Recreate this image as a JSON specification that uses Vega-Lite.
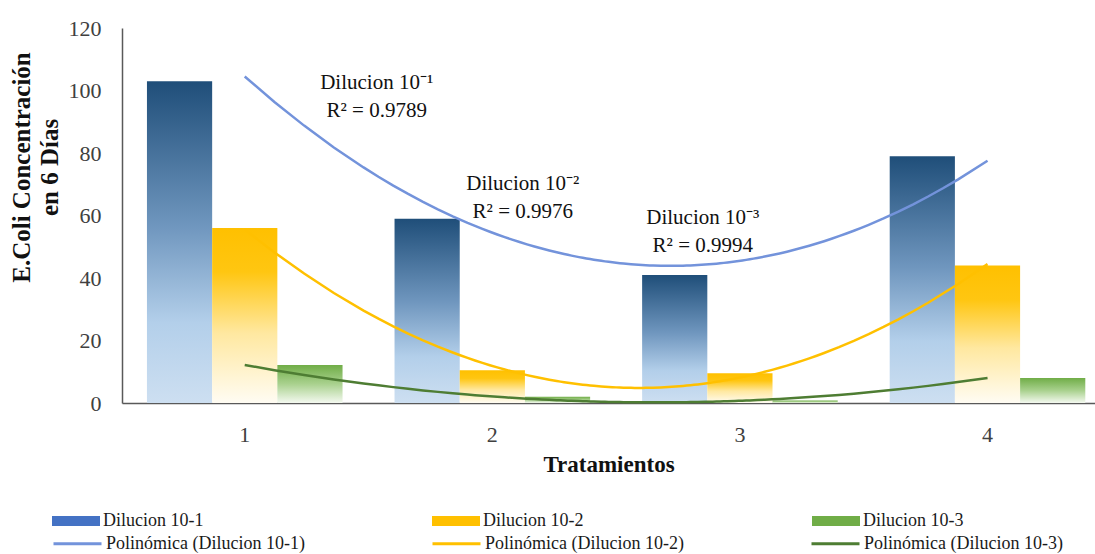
{
  "$schema": "https://vega.github.io/schema/vega-lite/v6.json",
  "autosize": {"type": "none"},
  "width": 973,
  "height": 375,
  "padding": {"left": 122, "top": 28, "right": 0, "bottom": 151},
  "background": "white",
  "config": {
    "view": {"stroke": null},
    "font": "Liberation Serif",
    "axis": {"labelFont": "Liberation Serif", "titleFont": "Liberation Serif", "domainColor": "#595959", "domainWidth": 1.5, "ticks": false, "grid": false, "labelColor": "#404040", "titleColor": "#111111", "labelFontSize": 22, "titleFontSize": 23, "titleFontWeight": "bold"},
    "legend": {"labelFont": "Liberation Serif", "labelFontSize": 18, "labelColor": "#1a1a1a", "labelLimit": 400}
  },
  "datasets": {
    "bars": [
      {"Tratamiento": 1, "Serie": "Dilucion 10-1", "Tendencia": "Polinómica (Dilucion 10-1)", "Valor": 103},
      {"Tratamiento": 2, "Serie": "Dilucion 10-1", "Tendencia": "Polinómica (Dilucion 10-1)", "Valor": 59},
      {"Tratamiento": 3, "Serie": "Dilucion 10-1", "Tendencia": "Polinómica (Dilucion 10-1)", "Valor": 41},
      {"Tratamiento": 4, "Serie": "Dilucion 10-1", "Tendencia": "Polinómica (Dilucion 10-1)", "Valor": 79},
      {"Tratamiento": 1, "Serie": "Dilucion 10-2", "Tendencia": "Polinómica (Dilucion 10-2)", "Valor": 56},
      {"Tratamiento": 2, "Serie": "Dilucion 10-2", "Tendencia": "Polinómica (Dilucion 10-2)", "Valor": 10.5},
      {"Tratamiento": 3, "Serie": "Dilucion 10-2", "Tendencia": "Polinómica (Dilucion 10-2)", "Valor": 9.5},
      {"Tratamiento": 4, "Serie": "Dilucion 10-2", "Tendencia": "Polinómica (Dilucion 10-2)", "Valor": 44},
      {"Tratamiento": 1, "Serie": "Dilucion 10-3", "Tendencia": "Polinómica (Dilucion 10-3)", "Valor": 12.2},
      {"Tratamiento": 2, "Serie": "Dilucion 10-3", "Tendencia": "Polinómica (Dilucion 10-3)", "Valor": 2},
      {"Tratamiento": 3, "Serie": "Dilucion 10-3", "Tendencia": "Polinómica (Dilucion 10-3)", "Valor": 0.8},
      {"Tratamiento": 4, "Serie": "Dilucion 10-3", "Tendencia": "Polinómica (Dilucion 10-3)", "Valor": 8}
    ],
    "labels": [
      {"x": 1.533, "y": 102.4, "texto": "Dilucion 10⁻¹\nR² = 0.9789"},
      {"x": 2.123, "y": 70.1, "texto": "Dilucion 10⁻²\nR² = 0.9976"},
      {"x": 2.85, "y": 59.2, "texto": "Dilucion 10⁻³\nR² = 0.9994"}
    ]
  },
  "resolve": {"scale": {"x": "independent"}},
  "layer": [
    {
      "data": {"name": "bars"},
      "mark": {"type": "bar"},
      "encoding": {
        "x": {"field": "Tratamiento", "type": "ordinal", "title": "Tratamientos",
              "scale": {"paddingInner": 0.21, "paddingOuter": 0.07, "align": 0.72},
              "axis": {"labelAngle": 0, "labelPadding": 21, "titlePadding": 8}},
        "xOffset": {"field": "Serie", "type": "nominal", "scale": {"paddingInner": 0, "paddingOuter": 0}},
        "y": {"field": "Valor", "type": "quantitative", "title": ["E.Coli Concentración", "en 6 Días"],
              "scale": {"domain": [0, 120], "nice": false},
              "axis": {"values": [0, 20, 40, 60, 80, 100, 120], "labelPadding": 21, "titlePadding": 6, "titleLineHeight": 28, "titleFontSize": 25, "titleY": 139}},
        "fill": {
          "condition": [
            {"test": "datum.Serie === 'Dilucion 10-1'", "value": {"gradient": "linear", "x1": 0, "y1": 0, "x2": 0, "y2": 1, "stops": [{"offset": 0, "color": "#1F4E79"}, {"offset": 0.45, "color": "#6F96BE"}, {"offset": 0.75, "color": "#B3CFEA"}, {"offset": 1, "color": "#CDDFF1"}]}},
            {"test": "datum.Serie === 'Dilucion 10-2'", "value": {"gradient": "linear", "x1": 0, "y1": 0, "x2": 0, "y2": 1, "stops": [{"offset": 0, "color": "#FFC000"}, {"offset": 0.25, "color": "#FFC611"}, {"offset": 0.6, "color": "#FFE8A0"}, {"offset": 1, "color": "#FFFCF3"}]}},
            {"test": "datum.Serie === 'Dilucion 10-3'", "value": {"gradient": "linear", "x1": 0, "y1": 0, "x2": 0, "y2": 1, "stops": [{"offset": 0, "color": "#70AD47"}, {"offset": 0.5, "color": "#A9D18E"}, {"offset": 1, "color": "#F4F9F0"}]}}
          ],
          "field": "Serie", "type": "nominal",
          "scale": {"domain": ["Dilucion 10-1", "Dilucion 10-2", "Dilucion 10-3"], "range": ["#4472C4", "#FFC000", "#70AD47"]},
          "legend": {"title": null, "orient": "none", "legendX": -70, "legendY": 469, "columns": 3, "columnPadding": 228,
                     "symbolType": "M-1,-0.21H1V0.21H-1Z", "symbolSize": 2304, "symbolStrokeWidth": 0, "labelOffset": 3}
        }
      }
    },
    {
      "data": {"name": "bars"},
      "transform": [{"regression": "Valor", "on": "Tratamiento", "method": "poly", "order": 2, "groupby": ["Tendencia"], "extent": [1, 4]}],
      "mark": {"type": "line", "strokeWidth": 2.5},
      "encoding": {
        "x": {"field": "Tratamiento", "type": "quantitative", "scale": {"domain": [0.5044, 4.434], "nice": false, "zero": false}, "axis": null},
        "y": {"field": "Valor", "type": "quantitative"},
        "stroke": {"field": "Tendencia", "type": "nominal",
                   "scale": {"domain": ["Polinómica (Dilucion 10-1)", "Polinómica (Dilucion 10-2)", "Polinómica (Dilucion 10-3)"], "range": ["#7393DB", "#FFC000", "#4E7D33"]},
                   "legend": {"title": null, "orient": "none", "legendX": -70, "legendY": 490, "columns": 3, "columnPadding": 121,
                              "symbolType": "stroke", "symbolSize": 2304, "symbolStrokeWidth": 3, "labelOffset": 3}}
      }
    },
    {
      "data": {"name": "labels"},
      "mark": {"type": "text", "font": "Liberation Serif", "fontSize": 21, "lineBreak": "\n", "lineHeight": 28, "align": "center", "baseline": "middle", "color": "#111111"},
      "encoding": {
        "x": {"field": "x", "type": "quantitative", "scale": {"domain": [0.5044, 4.434], "nice": false, "zero": false}, "axis": null},
        "y": {"field": "y", "type": "quantitative"},
        "text": {"field": "texto"}
      }
    }
  ]
}
